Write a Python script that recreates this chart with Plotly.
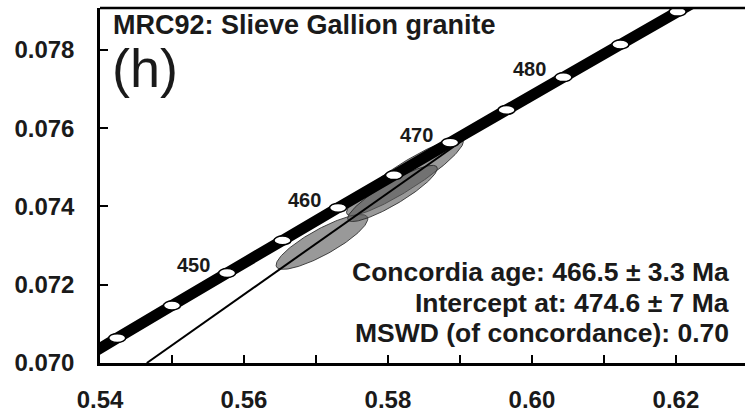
import numpy as np
import plotly.graph_objects as go

# ---------------- data ----------------
# Concordia curve points (207Pb/235U, 206Pb/238U) at ages in Ma
conc_ages = [435, 440, 445, 450, 455, 460, 465, 470, 475, 480, 485, 490, 495]
conc_x = [0.53482, 0.54239, 0.55000, 0.55766, 0.56535, 0.57307, 0.58084,
          0.58864, 0.59648, 0.60437, 0.61229, 0.62024, 0.62824]
conc_y = [0.069808, 0.070638, 0.071469, 0.072300, 0.073132, 0.073965, 0.074798,
          0.075632, 0.076467, 0.077302, 0.078138, 0.078975, 0.079812]
labelled_ages = [450, 460, 470, 480]

# Discordia line (lower end at x-axis, upper intercept 474.6 Ma)
disc_x = [0.5465, 0.59586]
disc_y = [0.0700, 0.07640]

# Analysis error ellipses: centre, sigma, correlation
ell_x = [0.58236, 0.57083, 0.58063]
ell_y = [0.074754, 0.073093, 0.074332]
ell_sx = [0.00812, 0.00637, 0.00623]
ell_sy = [0.000987, 0.000700, 0.000718]
ell_rho = [0.915, 0.845, 0.89]

x_tick_vals = [0.54, 0.55, 0.56, 0.57, 0.58, 0.59, 0.60, 0.61, 0.62]
x_tick_text = ["0.54", "", "0.56", "", "0.58", "", "0.60", "", "0.62"]
y_tick_vals = [0.070, 0.072, 0.074, 0.076, 0.078]
y_tick_text = ["0.070", "0.072", "0.074", "0.076", "0.078"]

title_text = "MRC92: Slieve Gallion granite"
panel_text = "(h)"
result_lines = ["Concordia age: 466.5 ± 3.3 Ma",
                "Intercept at: 474.6 ± 7 Ma",
                "MSWD (of concordance): 0.70"]

X_RANGE = [0.54, 0.6296]
Y_RANGE = [0.070, 0.07907]
FONT = "Liberation Sans, Arial, sans-serif"
TXT = "#1a1a1a"

fig = go.Figure()

# error ellipses
th = np.linspace(0, 2 * np.pi, 200)
for cx, cy, sx, sy, r in zip(ell_x, ell_y, ell_sx, ell_sy, ell_rho):
    ex = cx + sx * np.cos(th)
    ey = cy + sy * (r * np.cos(th) + np.sqrt(1 - r * r) * np.sin(th))
    fig.add_trace(go.Scatter(x=ex, y=ey, mode="lines", fill="toself",
                             fillcolor="rgba(90,90,90,0.62)",
                             line=dict(color="rgba(40,40,40,0.85)", width=1),
                             hoverinfo="skip", showlegend=False))

# discordia
fig.add_trace(go.Scatter(x=disc_x, y=disc_y, mode="lines",
                         line=dict(color="black", width=2),
                         hoverinfo="skip", showlegend=False))

# concordia
fig.add_trace(go.Scatter(x=conc_x, y=conc_y, mode="lines",
                         line=dict(color="black", width=11, shape="spline"),
                         hoverinfo="skip", showlegend=False))

# age markers (white ellipses) as shapes
px_per_x = 645 / (X_RANGE[1] - X_RANGE[0])
px_per_y = 355 / (Y_RANGE[1] - Y_RANGE[0])
hw = 8.5 / px_per_x
hh = 4.4 / px_per_y
shapes = []
for a, cx, cy in zip(conc_ages, conc_x, conc_y):
    shapes.append(dict(type="circle", xref="x", yref="y",
                       x0=cx - hw, x1=cx + hw, y0=cy - hh, y1=cy + hh,
                       fillcolor="white", line=dict(color="black", width=1.5),
                       layer="above"))
# top frame line
shapes.append(dict(type="line", xref="paper", yref="paper", x0=0, x1=1, y0=1, y1=1,
                   line=dict(color="black", width=2.5)))

annotations = []
for a in labelled_ages:
    i = conc_ages.index(a)
    annotations.append(dict(x=conc_x[i], y=conc_y[i], xref="x", yref="y",
                            text="<b>" + str(a) + "</b>", showarrow=False,
                            xshift=-34, yshift=8,
                            font=dict(family=FONT, size=20, color=TXT)))
annotations.append(dict(x=0.017, y=0.952, xref="paper", yref="paper",
                        text="<b>" + title_text + "</b>", showarrow=False,
                        xanchor="left", yanchor="middle",
                        font=dict(family=FONT, size=27, color=TXT)))
annotations.append(dict(x=0.015, y=0.831, xref="paper", yref="paper",
                        text=panel_text, showarrow=False,
                        xanchor="left", yanchor="middle",
                        font=dict(family=FONT, size=54, color=TXT)))
for k, (line, py) in enumerate(zip(result_lines, [272, 303, 333])):
    annotations.append(dict(x=(731 - 100) / 645, y=(363 - py) / 355,
                            xref="paper", yref="paper",
                            text="<b>" + line + "</b>", showarrow=False,
                            xanchor="right", yanchor="middle",
                            font=dict(family=FONT, size=26.5, color=TXT)))

fig.update_layout(
    width=745, height=415,
    margin=dict(l=100, r=0, t=8, b=52),
    plot_bgcolor="white", paper_bgcolor="white",
    shapes=shapes, annotations=annotations,
    showlegend=False,
    xaxis=dict(range=X_RANGE, tickvals=x_tick_vals, ticktext=x_tick_text,
               ticks="inside", ticklen=8, tickwidth=2, tickcolor="black",
               showline=True, linecolor="black", linewidth=2.5,
               showgrid=False, zeroline=False, ticklabelstandoff=13,
               tickfont=dict(family=FONT, size=24, color=TXT, weight="bold")),
    yaxis=dict(range=Y_RANGE, tickvals=y_tick_vals, ticktext=y_tick_text,
               ticks="inside", ticklen=8, tickwidth=2, tickcolor="black",
               showline=True, linecolor="black", linewidth=2.5,
               showgrid=False, zeroline=False, ticklabelstandoff=18,
               tickfont=dict(family=FONT, size=24, color=TXT, weight="bold")),
)
fig.write_html("out.html", config={"displayModeBar": False},
               post_script="document.body.style.margin='0';document.body.style.overflow='hidden';")
